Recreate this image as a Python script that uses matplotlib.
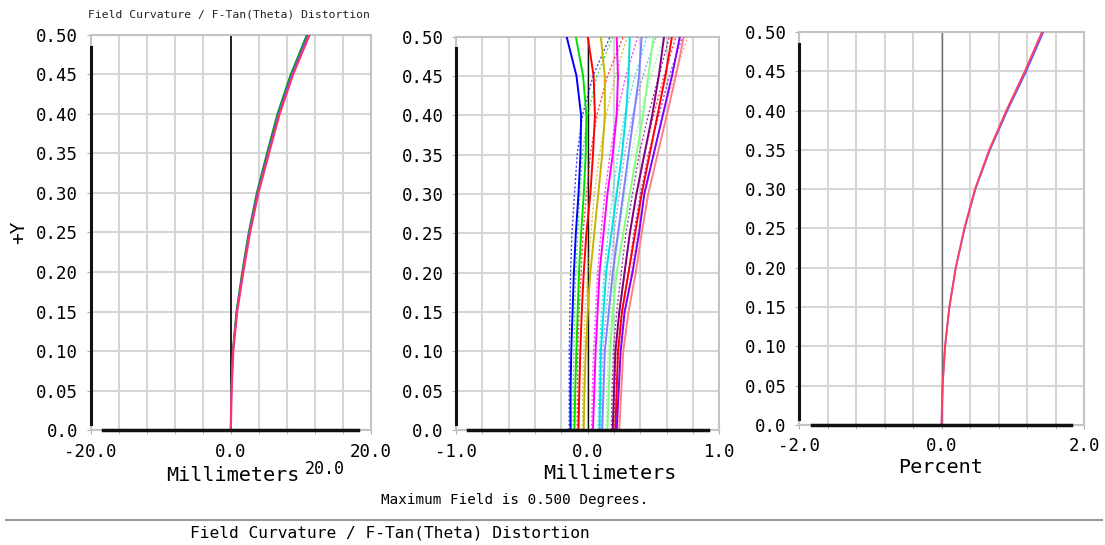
import matplotlib.pyplot as plt
from matplotlib.ticker import MultipleLocator

plt.rcParams['font.family'] = 'DejaVu Sans Mono'

# field heights (same for every curve)
field_y = [0.0, 0.05, 0.10, 0.15, 0.20, 0.25, 0.30, 0.35, 0.40, 0.45, 0.50]

# panel 1: field curvature, millimeters (broad range)
curv_wide_a = [0.0, 0.08, 0.28, 0.80, 1.62, 2.55, 3.70, 5.15, 6.65, 8.55, 10.85]
curv_wide_b = [0.0, 0.10, 0.32, 0.86, 1.70, 2.65, 3.82, 5.30, 6.82, 8.72, 11.05]
curv_wide_c = [0.0, 0.12, 0.36, 0.92, 1.80, 2.76, 3.95, 5.45, 6.98, 8.90, 11.25]

# panel 2: field curvature, millimeters (zoomed), one solid + one dotted per wavelength
wave_colors = ['#0000ff', '#00e000', '#ff0000', '#c8b400', '#ff00ff', '#00e0e0',
               '#8080ff', '#80ff80', '#800080', '#ff0000', '#8000ff', '#ff8080']
curv_solid = [
    [-0.13, -0.13, -0.125, -0.115, -0.105, -0.09, -0.07, -0.055, -0.05, -0.085, -0.16],
    [-0.10, -0.095, -0.086, -0.076, -0.066, -0.05, -0.03, -0.015, -0.01, -0.035, -0.09],
    [-0.07, -0.064, -0.056, -0.045, -0.03, -0.01, 0.02, 0.04, 0.055, 0.045, 0.0],
    [-0.03, -0.025, -0.015, 0.0, 0.02, 0.05, 0.08, 0.11, 0.13, 0.13, 0.10],
    [0.04, 0.05, 0.06, 0.075, 0.09, 0.12, 0.15, 0.19, 0.22, 0.23, 0.22],
    [0.09, 0.095, 0.10, 0.12, 0.14, 0.18, 0.22, 0.26, 0.29, 0.31, 0.32],
    [0.11, 0.12, 0.13, 0.16, 0.19, 0.23, 0.27, 0.31, 0.35, 0.39, 0.41],
    [0.15, 0.16, 0.17, 0.19, 0.22, 0.27, 0.32, 0.37, 0.42, 0.46, 0.50],
    [0.19, 0.20, 0.21, 0.24, 0.28, 0.32, 0.37, 0.43, 0.49, 0.54, 0.58],
    [0.21, 0.22, 0.23, 0.26, 0.31, 0.36, 0.41, 0.47, 0.53, 0.59, 0.64],
    [0.22, 0.235, 0.25, 0.28, 0.34, 0.39, 0.43, 0.50, 0.57, 0.64, 0.70],
    [0.24, 0.255, 0.27, 0.31, 0.365, 0.41, 0.46, 0.53, 0.60, 0.67, 0.73],
]
curv_dotted = [
    [-0.14, -0.14, -0.14, -0.135, -0.13, -0.12, -0.10, -0.08, -0.04, 0.04, 0.17],
    [-0.11, -0.11, -0.105, -0.10, -0.09, -0.075, -0.06, -0.04, 0.0, 0.07, 0.19],
    [-0.08, -0.078, -0.075, -0.065, -0.05, -0.035, -0.01, 0.02, 0.07, 0.15, 0.27],
    [-0.04, -0.037, -0.03, -0.02, 0.0, 0.025, 0.05, 0.09, 0.14, 0.21, 0.30],
    [0.03, 0.035, 0.045, 0.06, 0.075, 0.10, 0.13, 0.17, 0.22, 0.29, 0.38],
    [0.08, 0.085, 0.09, 0.105, 0.125, 0.155, 0.19, 0.23, 0.28, 0.36, 0.45],
    [0.10, 0.105, 0.115, 0.14, 0.17, 0.20, 0.24, 0.28, 0.34, 0.42, 0.52],
    [0.14, 0.145, 0.155, 0.175, 0.20, 0.24, 0.28, 0.33, 0.40, 0.48, 0.58],
    [0.18, 0.185, 0.195, 0.22, 0.255, 0.29, 0.34, 0.39, 0.46, 0.54, 0.62],
    [0.20, 0.205, 0.215, 0.24, 0.28, 0.32, 0.37, 0.43, 0.50, 0.58, 0.67],
    [0.21, 0.22, 0.235, 0.26, 0.31, 0.35, 0.40, 0.46, 0.54, 0.62, 0.72],
    [0.23, 0.24, 0.255, 0.285, 0.33, 0.38, 0.43, 0.50, 0.57, 0.66, 0.76],
]

# panel 3: f-tan(theta) distortion, percent
dist_a = [0.0, 0.015, 0.05, 0.11, 0.20, 0.32, 0.47, 0.67, 0.91, 1.17, 1.41]
dist_b = [0.0, 0.015, 0.05, 0.11, 0.20, 0.325, 0.475, 0.68, 0.925, 1.19, 1.43]

fig = plt.figure(figsize=(11.05, 5.45), dpi=100)


def setup(ax, xmax, xlabels):
    ax.set_xlim(-xmax, xmax)
    ax.set_ylim(0, 0.5)
    ax.xaxis.set_minor_locator(MultipleLocator(xmax / 5))
    ax.xaxis.set_major_locator(plt.FixedLocator([-xmax, 0, xmax]))
    ax.set_xticklabels(xlabels)
    ax.set_yticks(field_y)
    ax.set_yticklabels(['0.0', '0.05', '0.10', '0.15', '0.20', '0.25', '0.30',
                        '0.35', '0.40', '0.45', '0.50'])
    ax.grid(True, which='both', color='#d6d6d6', lw=1.5)
    ax.set_axisbelow(True)
    for s in ax.spines.values():
        s.set_color('#c4c4c4')
        s.set_linewidth(1.5)
    ax.tick_params(which='both', length=3, color='#b0b0b0', labelsize=12.5, pad=6)
    # dark axis strokes drawn inside the frame
    ax.plot([-0.91 * xmax, 0.91 * xmax], [0, 0], color='#111111', lw=2.5,
            clip_on=False, zorder=5)
    ax.plot([-xmax, -xmax], [0.008, 0.485], color='#111111', lw=2.2,
            clip_on=False, zorder=5)


# panel 1
ax1 = fig.add_axes([0.0821, 0.211, 0.2534, 0.7248])
setup(ax1, 20, ['-20.0', '0.0', '20.0'])
ax1.axvline(0, color='#111111', lw=1.3, zorder=2)
ax1.plot(curv_wide_a, field_y, color='#00a000', lw=1.2, zorder=3)
ax1.plot(curv_wide_b, field_y, color='#4060ff', lw=1.2, zorder=3)
ax1.plot(curv_wide_c, field_y, color='#ff3070', lw=1.6, zorder=3)
ax1.set_ylabel('+Y', fontsize=14, labelpad=6)

# panel 2
ax2 = fig.add_axes([0.4127, 0.211, 0.2383, 0.7217])
setup(ax2, 1.0, ['-1.0', '0.0', '1.0'])
ax2.axvline(0, color='#111111', lw=1.0, zorder=2)
for c, xs in zip(wave_colors, curv_dotted):
    ax2.plot(xs, field_y, color=c, lw=1.0, ls=(0, (1.5, 1.5)), alpha=0.75, zorder=3)
for c, xs in zip(wave_colors, curv_solid):
    ax2.plot(xs, field_y, color=c, lw=1.4, zorder=4)

# panel 3
ax3 = fig.add_axes([0.7231, 0.2202, 0.2579, 0.7211])
setup(ax3, 2.0, ['-2.0', '0.0', '2.0'])
ax3.axvline(0, color='#707070', lw=1.0, zorder=2)
ax3.plot(dist_b, field_y, color='#5060ff', lw=1.2, zorder=3)
ax3.plot(dist_a, field_y, color='#ff4060', lw=1.4, zorder=3)

# texts
fig.text(0.0796, 0.973, 'Field Curvature / F-Tan(Theta) Distortion', fontsize=8.2,
         ha='left', va='center', color='#222222')
fig.text(0.2104, 0.128, 'Millimeters', fontsize=14.5, ha='center', va='center')
fig.text(0.294, 0.139, '20.0', fontsize=12, ha='center', va='center')
fig.text(0.552, 0.131, 'Millimeters', fontsize=14.5, ha='center', va='center')
fig.text(0.851, 0.143, 'Percent', fontsize=14.5, ha='center', va='center')
fig.text(0.3448, 0.083, 'Maximum Field is 0.500 Degrees.', fontsize=10.3,
         ha='left', va='center')
fig.add_artist(plt.Line2D([0.005, 0.997], [0.046, 0.046], color='#9a9a9a', lw=1.5))
fig.text(0.172, 0.022, 'Field Curvature / F-Tan(Theta) Distortion', fontsize=11.7,
         ha='left', va='center')

fig.savefig('out.png', dpi=100)
